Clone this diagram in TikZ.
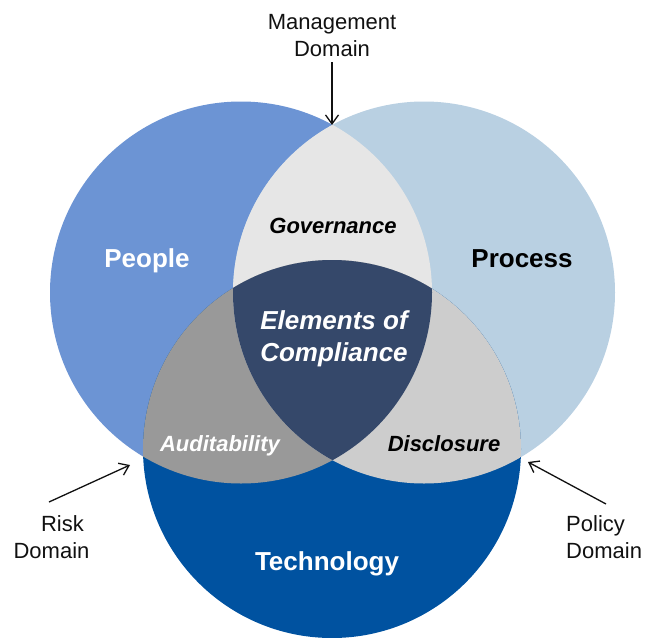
\documentclass[tikz,border=0pt]{standalone}
\usepackage{fontspec}
\setmainfont{Liberation Sans}
\usetikzlibrary{arrows.meta}
\definecolor{peopleC}{HTML}{6C94D4}
\definecolor{processC}{HTML}{B9D0E2}
\definecolor{techC}{HTML}{0052A0}
\definecolor{govC}{HTML}{E6E6E6}
\definecolor{audC}{HTML}{999999}
\definecolor{discC}{HTML}{CDCDCD}
\definecolor{elemC}{HTML}{35486A}
\definecolor{txtC}{HTML}{111111}
\begin{document}
\begin{tikzpicture}[x=1pt,y=-1pt,
  big/.style={font=\fontsize{26}{32}\selectfont\bfseries, inner sep=0pt, anchor=base},
  ital/.style={font=\fontsize{22}{27}\selectfont\bfseries\itshape, inner sep=0pt, anchor=base},
  dom/.style={font=\fontsize{22}{27}\selectfont, text=txtC},
  arr/.style={-{Straight Barb[length=9pt,width=13pt]}, line width=1.3pt, draw=txtC}]
\useasboundingbox (0,0) rectangle (645,637);
\coordinate (cPeople) at (241,292.5);
\coordinate (cProcess) at (424,292.5);
\coordinate (cTech) at (332,449);
% base circles
\fill[peopleC] (cPeople) circle[radius=191pt];
\fill[processC] (cProcess) circle[radius=191pt];
\fill[techC] (cTech) circle[radius=189pt];
% pairwise overlaps
\begin{scope}
  \clip (cPeople) circle[radius=191pt];
  \fill[govC] (cProcess) circle[radius=191pt];
  \fill[audC] (cTech) circle[radius=189pt];
\end{scope}
\begin{scope}
  \clip (cProcess) circle[radius=191pt];
  \fill[discC] (cTech) circle[radius=189pt];
\end{scope}
\begin{scope}
  \clip (cPeople) circle[radius=191pt];
  \clip (cProcess) circle[radius=191pt];
  \fill[elemC] (cTech) circle[radius=189pt];
\end{scope}
% region labels
\node[big, text=white] (people) at (147,267) {People};
\node[big, text=black] (process) at (522,267) {Process};
\node[big, text=white] (tech) at (327,570) {Technology};
\node[ital, text=black] (gov) at (333,233) {Governance};
\node[ital, text=white] (aud) at (220,451) {Auditability};
\node[ital, text=black] (disc) at (444,451) {Disclosure};
\node[font=\fontsize{26}{32}\selectfont\bfseries\itshape, text=white, align=center, inner sep=0pt] (elem) at (334,339) {Elements of\\Compliance};
% domain labels
\node[dom, align=center] (mgmt) at (332,35.6) {Management\\Domain};
\node[dom, align=center] (risk) at (51.5,537.5) {\hspace*{22pt}Risk\\Domain};
\node[dom, align=left, anchor=west] (policy) at (562.7,537) {Policy\\Domain};
% arrow ends
\coordinate (mgmtTip) at (332,125);
\coordinate (riskTail) at (49,502);
\coordinate (riskTip) at (130,465);
\coordinate (policyTail) at (606,504);
\coordinate (policyTip) at (528,462);
\draw[arr, shorten <=2pt] (mgmt.south) -- (mgmtTip);
\draw[arr] (riskTail) -- (riskTip);
\draw[arr] (policyTail) -- (policyTip);
\end{tikzpicture}
\end{document}
